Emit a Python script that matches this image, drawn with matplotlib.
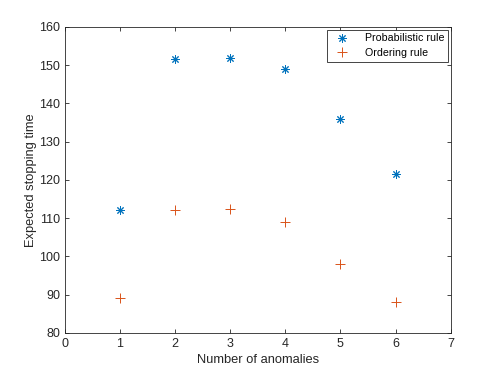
import matplotlib
matplotlib.use("Agg")
import matplotlib.pyplot as plt

plt.rcParams['font.family'] = ['Liberation Sans', 'DejaVu Sans']

anomalies = [1, 2, 3, 4, 5, 6]
prob_rule = [112, 151.5, 152, 149, 136, 121.5]
order_rule = [89, 112, 112.5, 109, 98, 88]

fig = plt.figure(figsize=(4.98, 3.74), dpi=100)
ax = fig.add_axes([0.13, 0.11, 0.775, 0.818])

# matlab style asterisk: 8 spokes
ax.plot(anomalies, prob_rule, marker=(8, 2, 0), color=(0, 0.447, 0.741), ms=6,
        mew=0.7, linestyle='none', label='Probabilistic rule')
ax.plot(anomalies, order_rule, '+', color=(0.85, 0.325, 0.098), ms=6.5, mew=0.7,
        linestyle='none', label='Ordering rule')

ax.set_xlim(0, 7)
ax.set_ylim(80, 160)
ax.set_xticks(range(0, 8))
ax.set_yticks(range(80, 161, 10))
gray = (0.15, 0.15, 0.15)
ax.set_xlabel('Number of anomalies', fontsize=9.3, color=gray, labelpad=3)
ax.set_ylabel('Expected stopping time', fontsize=9.3, color=gray, labelpad=1.5)

for s in ax.spines.values():
    s.set_color(gray)
    s.set_linewidth(0.6)
ax.tick_params(direction='in', top=True, right=True, length=3, width=0.6,
               colors=gray, labelsize=9)

leg = ax.legend(loc='upper right', fancybox=False, framealpha=1, fontsize=7.7,
                borderpad=0.35, handlelength=2.2, handletextpad=1.0,
                labelspacing=0.45, borderaxespad=0.25)
leg.get_frame().set_edgecolor(gray)
leg.get_frame().set_linewidth(0.6)

fig.savefig('out.png', dpi=100)
